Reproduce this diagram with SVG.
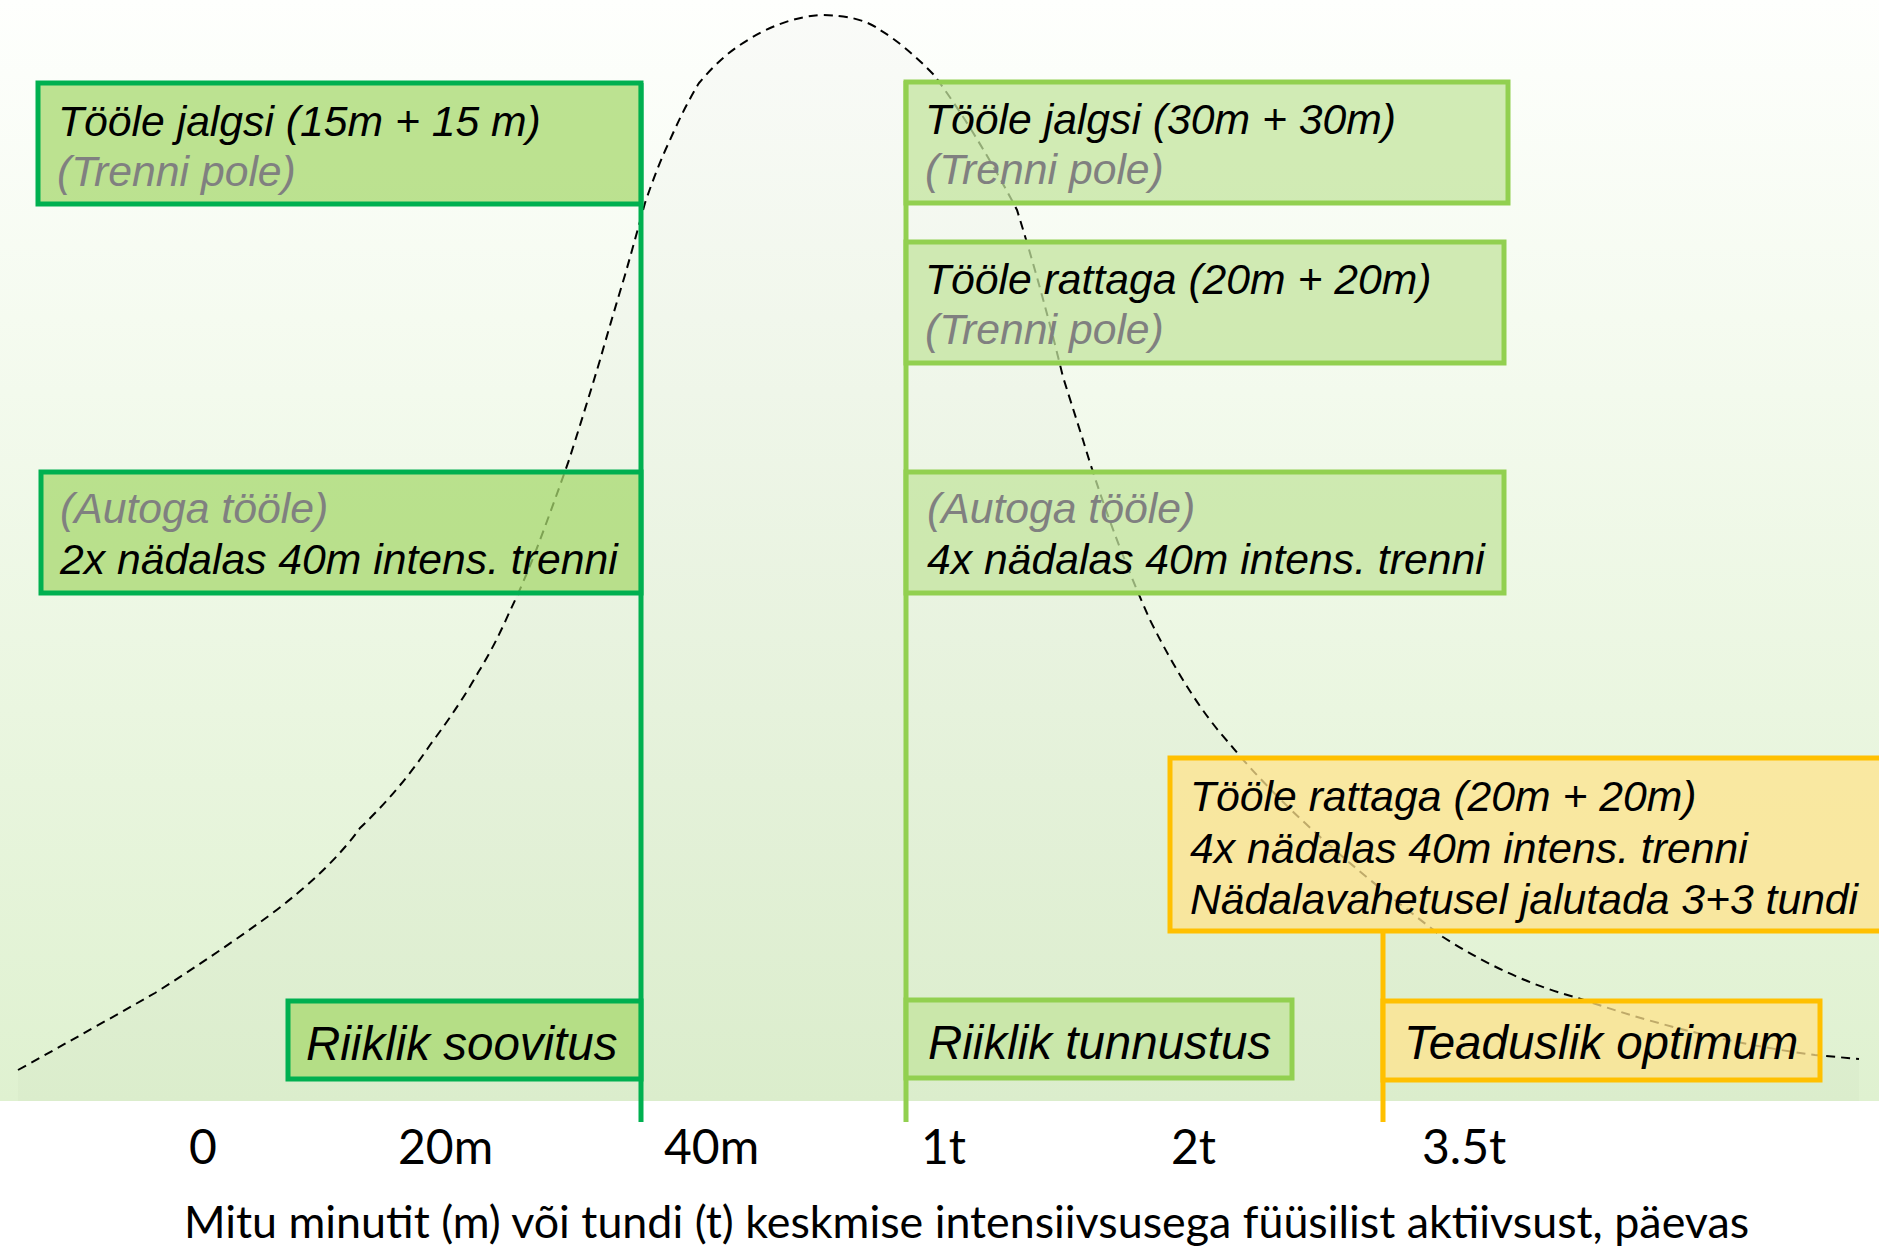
<svg xmlns="http://www.w3.org/2000/svg" width="1879" height="1246" viewBox="0 0 1879 1246">
<defs>
<linearGradient id="bg" x1="0" y1="0" x2="0" y2="1">
<stop offset="0" stop-color="#fefffd"/>
<stop offset="1" stop-color="#dff1d0"/>
</linearGradient>
</defs>
<style>
.t{font-family:"Liberation Sans",Arial,sans-serif;font-style:italic;font-size:42.7px;fill:#000}
.g{fill:#808080}
.big{font-size:47.5px}
.ax{font-family:Lato,"Liberation Sans",sans-serif;font-size:48px;fill:#000}
.sub{font-family:Lato,"Liberation Sans",sans-serif;font-size:44.8px;fill:#000}
.dk{fill:#a7d86d;fill-opacity:0.75;stroke:#00b050;stroke-width:5}
.lt{fill:#c3e49e;fill-opacity:0.75;stroke:#92d050;stroke-width:5}
.or{fill:#ffe38c;fill-opacity:0.75;stroke:#ffc000;stroke-width:5}
.ln{fill:none;stroke-width:5}
.curve{stroke:#000;stroke-width:2;stroke-dasharray:9 6;fill:none}
</style>
<rect x="0" y="0" width="1879" height="1101" fill="url(#bg)"/>
<rect x="0" y="1101" width="1879" height="145" fill="#fff"/>
<g id="curve">
<path d="M18,1070 L155,993 L270,915 Q330,870 360,828 Q400,790 430,745 Q460,705 479,671 Q495,645 509,613 L540,540 L569,460 L600,360 L625,275 L645,203 Q658,165 670,140 Q684,108 699,83 Q720,58 740,45 Q780,18 820,15 Q860,15 880,30 Q905,45 934,75 Q975,130 1017,210 Q1042,290 1063,377 Q1075,415 1083,440 Q1110,530 1150,620 Q1190,700 1229,743 Q1300,830 1443,937 Q1510,980 1578,998 Q1700,1040 1815,1055 L1859,1059 L1859,1101 L18,1101 Z" fill="#000" fill-opacity="0.015" stroke="none"/>
<path class="curve" d="M18,1070 Q90,1030 155,993 Q215,955 270,915 Q330,870 360,828 Q400,790 430,745 Q460,705 479,671 Q495,645 509,613 Q525,580 540,540 Q555,500 569,460 Q585,410 600,360 Q612,318 625,275 Q635,240 645,203 Q658,165 670,140 Q684,108 699,83 Q720,58 740,45 Q780,18 820,15 Q860,15 880,30 Q905,45 934,75 Q975,130 1017,210 Q1042,290 1063,377 Q1075,415 1083,440 Q1110,530 1150,620 Q1190,700 1229,743 Q1300,830 1443,937 Q1510,980 1578,998 Q1700,1040 1815,1055 L1859,1059"/>
</g>
<g id="connectors">
<line class="ln" x1="641" y1="83" x2="641" y2="1122" stroke="#00b050"/>
<line class="ln" x1="906" y1="81" x2="906" y2="1122" stroke="#92d050"/>
<line class="ln" x1="1383" y1="931" x2="1383" y2="1122" stroke="#ffc000"/>
</g>
<g id="n1">
<rect class="dk" x="38" y="83" width="603" height="121"/>
<text class="t" x="58" y="136">Tööle jalgsi (15m + 15 m)</text>
<text class="t g" x="57" y="186">(Trenni pole)</text>
</g>
<g id="n2">
<rect class="dk" x="41" y="472" width="600" height="121"/>
<text class="t g" x="60" y="523">(Autoga tööle)</text>
<text class="t" x="60" y="574">2x nädalas 40m intens. trenni</text>
</g>
<g id="n3">
<rect class="dk" x="288" y="1001" width="353" height="78"/>
<text class="t big" x="306" y="1060">Riiklik soovitus</text>
</g>
<g id="n4">
<rect class="lt" x="906" y="82" width="602" height="121"/>
<text class="t" x="925" y="134">Tööle jalgsi (30m + 30m)</text>
<text class="t g" x="925" y="184">(Trenni pole)</text>
</g>
<g id="n5">
<rect class="lt" x="906" y="242" width="598" height="121"/>
<text class="t" x="925" y="294">Tööle rattaga (20m + 20m)</text>
<text class="t g" x="925" y="344">(Trenni pole)</text>
</g>
<g id="n6">
<rect class="lt" x="906" y="472" width="598" height="121"/>
<text class="t g" x="927" y="523">(Autoga tööle)</text>
<text class="t" x="927" y="574">4x nädalas 40m intens. trenni</text>
</g>
<g id="n7">
<rect class="lt" x="906" y="1000" width="386" height="78"/>
<text class="t big" x="928" y="1059">Riiklik tunnustus</text>
</g>
<g id="n8">
<rect class="or" x="1170" y="758" width="720" height="173"/>
<text class="t" x="1190" y="811">Tööle rattaga (20m + 20m)</text>
<text class="t" x="1190" y="863">4x nädalas 40m intens. trenni</text>
<text class="t" x="1190" y="914">Nädalavahetusel jalutada 3+3 tundi</text>
</g>
<g id="n9">
<rect class="or" x="1383" y="1001" width="437" height="79"/>
<text class="t big" x="1404" y="1059">Teaduslik optimum</text>
</g>
<g id="axis">
<text class="ax" x="189" y="1164">0</text>
<text class="ax" x="398" y="1164">20m</text>
<text class="ax" x="664" y="1164">40m</text>
<text class="ax" x="921" y="1164">1t</text>
<text class="ax" x="1171" y="1164">2t</text>
<text class="ax" x="1422" y="1164">3.5t</text>
<text class="sub" x="184" y="1238">Mitu minutit (m) või tundi (t) keskmise intensiivsusega füüsilist aktiivsust, päevas</text>
</g>
</svg>
